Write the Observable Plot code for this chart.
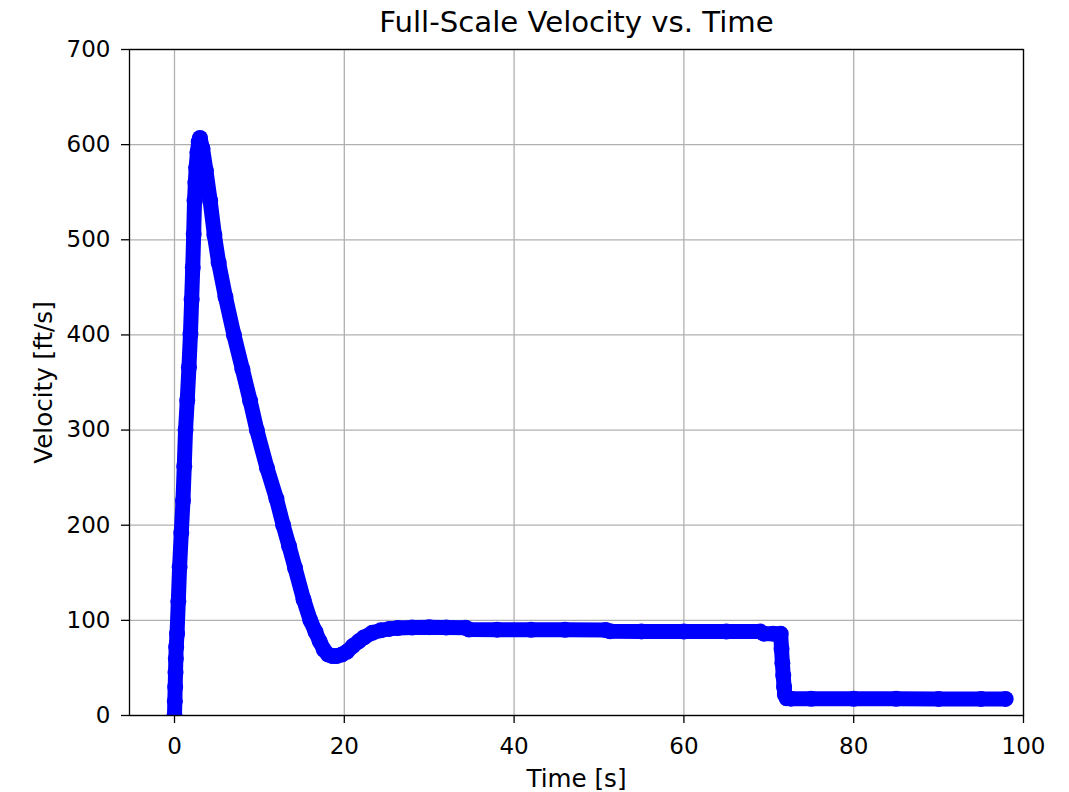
<!DOCTYPE html>
<html>
<head>
<meta charset="utf-8">
<script src="https://cdn.jsdelivr.net/npm/d3@7"></script>
<script src="https://cdn.jsdelivr.net/npm/@observablehq/plot@0.6"></script>
<style>
  html, body { margin: 0; padding: 0; background: #ffffff; }
  #chart { width: 1069px; height: 792px; }
</style>
</head>
<body>
<div id="chart"></div>
<script>
// Time [s]
const time = [
  0, 0.04, 0.08, 0.12, 0.16, 0.2, 0.3, 0.45, 0.6, 0.8, 1.0, 1.15, 1.3, 1.5, 1.7, 1.88,
  2.02, 2.15, 2.26, 2.36, 2.46, 2.55, 2.7, 2.85, 3.0, 3.3, 3.7, 4.2, 4.7, 5.2, 6.0,
  7.0, 8.0, 8.9, 9.7, 10.9, 12.0, 12.8, 13.5, 14.2, 15.2, 16.0, 16.6, 17.1, 17.6, 18.1,
  18.6, 19.1, 19.7, 20.3, 21.0, 21.7, 22.3, 23.3, 24.3, 25.3, 26.3, 28, 30, 32, 34.3,
  34.7, 38, 42, 46, 50.8, 51.3, 55, 60, 65, 69.0, 69.4, 70.5, 71.4, 71.5, 71.6, 71.7,
  71.8, 71.9, 72.1, 72.6, 75, 80, 85, 90, 95, 97.9
];
// Velocity [ft/s]
const velocity = [
  0, 15, 30, 45, 60, 72, 86, 120, 156, 192, 226, 262, 300, 331, 366, 401,
  437, 471, 506, 541, 560, 576, 592, 603, 607, 596, 573, 541, 505, 476, 440,
  400, 364, 331, 300, 260, 228, 200, 178, 155, 122, 100, 88, 78, 69, 64,
  62.5, 62.5, 64, 67, 73, 78, 82, 87, 89.5, 91, 92, 92.5, 92.8, 92.5, 92.2,
  90.3, 90.2, 90, 90, 89.8, 88.5, 88.4, 88.3, 88.3, 88.2, 86, 86, 86, 70, 55, 42,
  30, 22, 18, 17.7, 17.6, 17.5, 17.5, 17.4, 17.4, 17.4
];
const xTicks = [0, 20, 40, 60, 80, 100];
const yTicks = [0, 100, 200, 300, 400, 500, 600, 700];
const titleText = "Full-Scale Velocity vs. Time";
const xLabel = "Time [s]";
const yLabel = "Velocity [ft/s]";

const data = time.map((t, i) => ({t, v: velocity[i]}));

const gridStyle = {stroke: "#b0b0b0", strokeOpacity: 1, strokeWidth: 1.3};
const textCommon = {text: d => d, textAnchor: "middle", lineAnchor: "middle", fill: "#000000"};

const chart = Plot.plot({
  width: 1069,
  height: 792,
  marginLeft: 129,
  marginRight: 46,
  marginTop: 49,
  marginBottom: 77,
  style: {fontFamily: "'DejaVu Sans', sans-serif", background: "#ffffff", color: "#000000"},
  x: {domain: [-5.3, 100]},
  y: {domain: [0, 700]},
  marks: [
    Plot.gridX(xTicks, gridStyle),
    Plot.gridY(yTicks, gridStyle),
    Plot.line(data, {x: "t", y: "v", stroke: "#0000ff", strokeWidth: 15, strokeLinecap: "round", strokeLinejoin: "round", clip: true}),
    Plot.dot(data, {x: "t", y: "v", r: 8, fill: "#0000ff", clip: true}),
    Plot.frame({stroke: "#000000", strokeWidth: 1.3}),
    Plot.axisX({ticks: xTicks, tickSize: 8, tickPadding: 14, fontSize: 23, label: null, strokeWidth: 1.3}),
    Plot.axisY({ticks: yTicks, tickSize: 8, tickPadding: 11, fontSize: 23, label: null, strokeWidth: 1.3}),
    Plot.text([titleText], {...textCommon, frameAnchor: "top", dy: -26.4, fontSize: 29.2}),
    Plot.text([xLabel], {...textCommon, frameAnchor: "bottom", dy: 64, fontSize: 24.6}),
    Plot.text([yLabel], {...textCommon, frameAnchor: "left", dx: -85, rotate: -90, fontSize: 24.6})
  ]
});
document.getElementById("chart").appendChild(chart);
</script>
</body>
</html>
